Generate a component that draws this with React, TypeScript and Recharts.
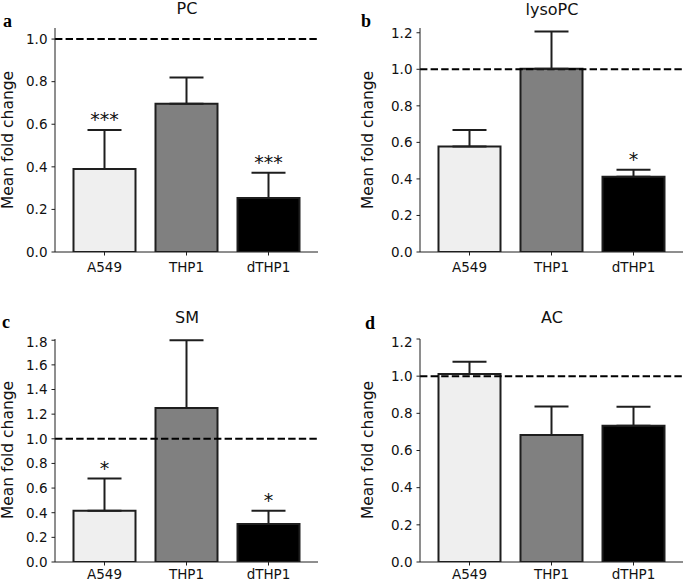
import { BarChart, Bar, XAxis, YAxis, ErrorBar, ReferenceLine, Cell, LabelList } from 'recharts';

const categories = ['A549', 'THP1', 'dTHP1'];
const barColors = ['#efefef', '#808080', '#000000'];

const pcMean = [0.39, 0.696, 0.254];
const pcErr = [0.183, 0.124, 0.118];
const pcSig = ['***', '', '***'];

const lysoMean = [0.578, 1.003, 0.412];
const lysoErr = [0.09, 0.204, 0.038];
const lysoSig = ['', '', '*'];

const smMean = [0.416, 1.25, 0.309];
const smErr = [0.261, 0.55, 0.107];
const smSig = ['*', '', '*'];

const acMean = [1.012, 0.683, 0.733];
const acErr = [0.066, 0.154, 0.102];
const acSig = ['', '', ''];

const ticks10 = [0, 0.2, 0.4, 0.6, 0.8, 1.0];
const ticks12 = [0, 0.2, 0.4, 0.6, 0.8, 1.0, 1.2];
const ticks18 = [0, 0.2, 0.4, 0.6, 0.8, 1.0, 1.2, 1.4, 1.6, 1.8];

const FONT = '"DejaVu Sans", Verdana, sans-serif';
const INK = '#1e1e1e';
const Y_W = 50;
const PLOT_W = 263;

interface PanelProps {
  mean: number[];
  err: number[];
  sig: string[];
  yMax: number;
  yTicks: number[];
  left: number;
  top: number;
  plotH: number;
  xTickMargin: number;
  xH: number;
}

function Panel({ mean, err, sig, yMax, yTicks, left, top, plotH, xTickMargin, xH }: PanelProps) {
  const data = categories.map((c, i) => ({ name: c, mean: mean[i], err: [0, err[i]], sig: sig[i] }));
  const mTop = 5;

  // star sits a few px above the error bar cap
  const renderStar = (p: any) => {
    const { x, y, width, height, value } = p;
    if (!value) return null;
    let i = p.index;
    if (i === undefined && p.payload) i = categories.indexOf(p.payload.name);
    const capY = Number(y) - (err[i] * Number(height)) / mean[i];
    return (
      <text x={Number(x) + Number(width) / 2} y={capY - 4} textAnchor="middle" fontSize={19} fontFamily={FONT} fill="#111">
        {value}
      </text>
    );
  };

  return (
    <div style={{ position: 'absolute', left, top }}>
      <BarChart
        width={Y_W + PLOT_W + 2}
        height={mTop + plotH + xH}
        data={data}
        margin={{ top: mTop, right: 2, bottom: 0, left: 0 }}
      >
        <XAxis
          dataKey="name"
          height={xH}
          interval={0}
          padding={{ left: 8.5, right: 8.5 }}
          axisLine={{ stroke: INK, strokeWidth: 1 }}
          tickLine={{ stroke: INK, strokeWidth: 1 }}
          tickSize={3.5}
          tickMargin={xTickMargin}
          tick={{ fill: '#111', fontSize: 13.5, fontFamily: FONT }}
        />
        <YAxis
          type="number"
          width={Y_W}
          domain={[0, yMax]}
          ticks={yTicks}
          allowDataOverflow
          tickFormatter={(v: number) => v.toFixed(1)}
          axisLine={{ stroke: INK, strokeWidth: 1 }}
          tickLine={{ stroke: INK, strokeWidth: 1 }}
          tickSize={3.5}
          tickMargin={4}
          tick={{ fill: '#111', fontSize: 13.5, fontFamily: FONT }}
        />
        <ReferenceLine y={1} stroke="#000" strokeWidth={2} strokeDasharray="7.4 3.2" />
        <Bar dataKey="mean" barSize={62} stroke={INK} strokeWidth={2} isAnimationActive={false}>
          {data.map((d, i) => (
            <Cell key={d.name} fill={barColors[i]} />
          ))}
          <ErrorBar dataKey="err" width={17} stroke={INK} strokeWidth={2} direction="y" />
          <LabelList dataKey="sig" content={renderStar} />
        </Bar>
      </BarChart>
    </div>
  );
}

export default function App() {
  return (
    <div style={{ position: 'absolute', left: 0, top: 0, width: 685, height: 583, background: '#fff', overflow: 'hidden' }}>
      <Panel mean={pcMean} err={pcErr} sig={pcSig} yMax={1.052} yTicks={ticks10} left={5} top={23} plotH={224} xTickMargin={7} xH={30} />
      <Panel mean={lysoMean} err={lysoErr} sig={lysoSig} yMax={1.226} yTicks={ticks12} left={370} top={23} plotH={224} xTickMargin={7} xH={30} />
      <Panel mean={smMean} err={smErr} sig={smSig} yMax={1.81} yTicks={ticks18} left={5} top={334} plotH={223} xTickMargin={4} xH={20} />
      <Panel mean={acMean} err={acErr} sig={acSig} yMax={1.2} yTicks={ticks12} left={370} top={334} plotH={223} xTickMargin={4} xH={20} />
      <svg width={685} height={583} style={{ position: 'absolute', left: 0, top: 0, pointerEvents: 'none' }}>
        <g fontFamily={FONT} fill="#111" textAnchor="middle">
          <g fontSize={16}>
            <text x={187} y={14}>PC</text>
            <text x={552} y={15}>lysoPC</text>
            <text x={187} y={323}>SM</text>
            <text x={552} y={323}>AC</text>
          </g>
          <g fontSize={15.5}>
            <text transform="translate(13,140) rotate(-90)">Mean fold change</text>
            <text transform="translate(373,140) rotate(-90)">Mean fold change</text>
            <text transform="translate(13,450) rotate(-90)">Mean fold change</text>
            <text transform="translate(373,450) rotate(-90)">Mean fold change</text>
          </g>
        </g>
        <g fontFamily='"Liberation Serif", "Times New Roman", serif' fontWeight="bold" fontSize={18} fill="#000">
          <text x={3} y={27}>a</text>
          <text x={361} y={27}>b</text>
          <text x={2} y={328}>c</text>
          <text x={365} y={329}>d</text>
        </g>
      </svg>
    </div>
  );
}
